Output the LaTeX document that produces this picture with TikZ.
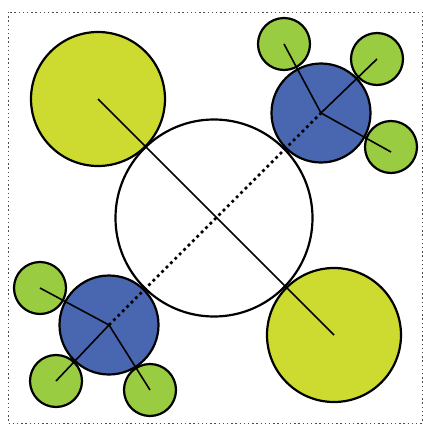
\documentclass[tikz,border=0pt]{standalone}
\usepackage{tikz}
\usetikzlibrary{calc}

\definecolor{bigyellow}{RGB}{205,219,48}
\definecolor{midblue}{RGB}{73,102,176}
\definecolor{smallgreen}{RGB}{153,204,64}

\begin{document}
\begin{tikzpicture}[
  x=1pt, y=-1pt,
  ball/.style={
    circle,
    draw,
    line width=2.2pt,
    inner sep=0pt
  },
  core/.style={
    ball,
    minimum size=197pt,
    fill=white
  },
  big/.style={
    ball,
    minimum size=134pt,
    fill=bigyellow
  },
  mid/.style={
    ball,
    minimum size=99pt,
    fill=midblue
  },
  small/.style={
    ball,
    minimum size=52pt,
    fill=smallgreen
  },
  spoke/.style={line width=1.6pt},
  bond/.style={line width=2.8pt, dash pattern=on 2.8pt off 3.4pt},
  frame/.style={line width=0.9pt, gray!60!black, dash pattern=on 1.4pt off 2.8pt}
]

\useasboundingbox (0,0) rectangle (423,424);

% ============================================================
% Frame
% ============================================================

\draw[frame] (8,12) rectangle (422,423);

% ============================================================
% Centre and the two large circles
% ============================================================

\node[core] (core) at (214,218) {};
\node[big] (bigtl) at (98,99) {};
\node[big] (bigbr) at (334,335) {};

% ============================================================
% Top-right group
% ============================================================

\node[small] (tra) at (284,44) {};
\node[small] (trb) at (377,59) {};
\node[small] (trc) at (391,147) {};
\node[mid] (midtr) at (321,113) {};

% ============================================================
% Bottom-left group
% ============================================================

\node[small] (bla) at (40,288) {};
\node[small] (blb) at (56,381) {};
\node[small] (blc) at (150,390) {};
\node[mid] (midbl) at (109,325) {};

% ============================================================
% Connectors
% ============================================================

\draw[spoke] (bigtl.center) -- (bigbr.center);
\draw[bond] (midbl.center) -- (midtr.center);

\draw[spoke] (midtr.center) -- (tra.center);
\draw[spoke] (midtr.center) -- (trb.center);
\draw[spoke] (midtr.center) -- ($(trc.center)+(0,5)$);

\draw[spoke] (midbl.center) -- (bla.center);
\draw[spoke] (midbl.center) -- (blb.center);
\draw[spoke] (midbl.center) -- (blc.center);

\end{tikzpicture}
\end{document}
